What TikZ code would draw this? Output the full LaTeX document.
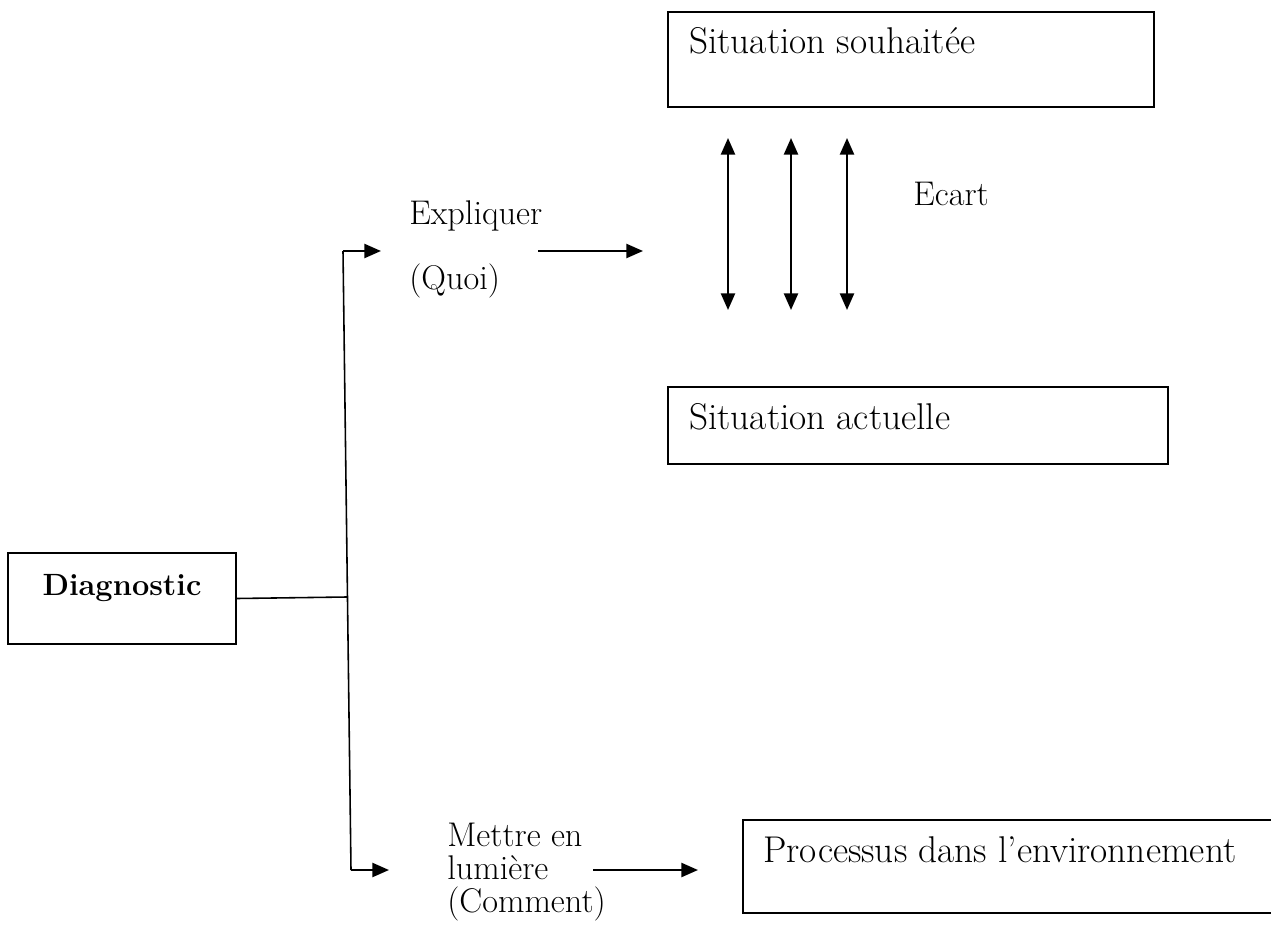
\documentclass[tikz,border=0pt]{standalone}
\usepackage{tikz}
\usetikzlibrary{arrows.meta,positioning,calc}

\begin{document}
\begin{tikzpicture}[x=0.02cm,y=-0.02cm,
                boite/.style={draw,line width=1pt,inner sep=0pt},
                grand/.style={inner sep=0pt,anchor=base west,font=\fontsize{21.2}{25}\selectfont},
                petit/.style={inner sep=0pt,anchor=base west,font=\fontsize{19.5}{23}\selectfont},
                trait/.style={line width=0.9pt},
                fleche/.style={line width=1.3pt,-{Triangle[length=9.5pt,width=8pt]}},
                ecartfl/.style={line width=1.3pt,{Triangle[length=9.5pt,width=8pt]}-{Triangle[length=9.5pt,width=8pt]}}]
                \useasboundingbox (0,0) rectangle (1271,929);
                \node[boite,minimum width=4.56cm,minimum height=1.82cm] (diag) at (122,598.5) {};
                \node[inner sep=0pt,anchor=base,font=\fontsize{17.5}{21}\selectfont\bfseries] (diagtxt) at (122,595) {Diagnostic};
                \node[boite,minimum width=9.72cm,minimum height=1.9cm] (souh) at (911,59.5) {};
                \node[grand] (souhtxt) at (689,54) {Situation souhaitée};
                \node[boite,minimum width=10cm,minimum height=1.54cm] (actu) at (918,425.5) {};
                \node[grand] (actutxt) at (689,429) {Situation actuelle};
                \node[boite,minimum width=10.94cm,minimum height=1.86cm] (proc) at (1016.5,866.5) {};
                \node[grand] (proctxt) at (763,862) {Processus dans l’environnement};
                \node[petit] (expl) at (409,225) {Expliquer};
                \node[petit] (quoi) at (409,290) {(Quoi)};
                \node[petit] (mettre) at (447,846) {Mettre en};
                \node[petit] (lumiere) at (447,879) {lumière};
                \node[petit] (comment) at (447,912) {(Comment)};
                \node[petit] (ecart) at (913,206) {Ecart};
                \coordinate (haut) at (343,251);
                \coordinate (bas) at (351,870);
                \coordinate (jonction) at (347,597);
                \coordinate (versexpl) at (381,251);
                \coordinate (versmettre) at (389,870);
                \coordinate (explA) at (538,251);
                \coordinate (explB) at (643,251);
                \coordinate (mettreA) at (593,870);
                \coordinate (mettreB) at (698,870);
                \draw[trait] (diag.east) -- (jonction);
                \draw[trait] (haut) -- (bas);
                \draw[fleche] (haut) -- (versexpl);
                \draw[fleche] (bas) -- (versmettre);
                \draw[fleche] (explA) -- (explB);
                \draw[fleche] (mettreA) -- (mettreB);
                \foreach \x [count=\i] in {728,791,847} {
                    \coordinate (h\i) at (\x,138);
                    \coordinate (b\i) at (\x,310);
                    \draw[ecartfl] (h\i) -- (b\i);
                }
            \end{tikzpicture}
\end{document}
